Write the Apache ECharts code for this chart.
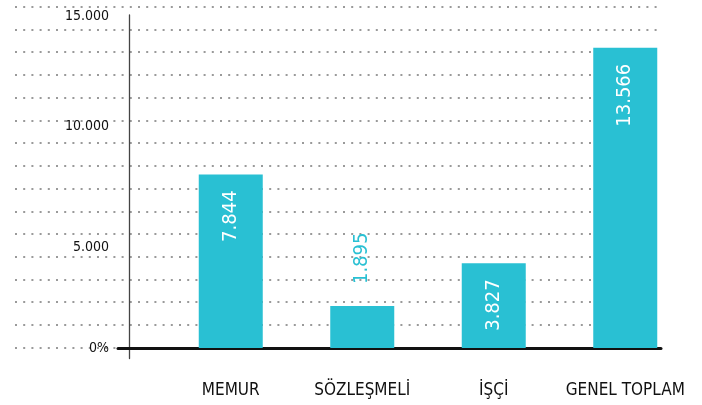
<!DOCTYPE html>
<html>
<head>
<meta charset="utf-8">
<script src="https://cdn.jsdelivr.net/npm/echarts@6/dist/echarts.min.js"></script>
<style>
html,body{margin:0;padding:0;background:#fff;}
#chart{width:702px;height:405px;}
</style>
</head>
<body>
<div id="chart"></div>
<script>
const categories = ['MEMUR', 'SÖZLEŞMELİ', 'İŞÇİ', 'GENEL TOPLAM'];
const values = [7844, 1895, 3827, 13566];
const yTickLabels = {0: '0%', 5000: '5.000', 10000: '10.000', 15000: '15.000'};
const outsideLabelCategories = ['SÖZLEŞMELİ'];

const FONT = "'DejaVu Sans Condensed', 'DejaVu Sans', sans-serif";
const BAR = '#29c0d3';

function fmt(v) {
  return String(v).replace(/\B(?=(\d{3})+(?!\d))/g, '.');
}

const seriesData = values.map(function (v, i) {
  const outside = outsideLabelCategories.indexOf(categories[i]) >= 0;
  return {
    value: v,
    label: outside ? {
      position: 'top', distance: 22, rotate: 90, align: 'left', verticalAlign: 'middle',
      color: BAR
    } : {
      position: 'insideTop', distance: 16, rotate: 90, align: 'right', verticalAlign: 'middle',
      color: '#ffffff'
    }
  };
});

const chart = echarts.init(document.getElementById('chart'), null, {renderer: 'canvas'});
chart.setOption({
  animation: false,
  backgroundColor: '#ffffff',
  grid: [
    {left: 15, right: 42, top: 6.7, bottom: 57.3},
    {left: 129, right: 42, top: 15, bottom: 46.5},
    {left: 118, right: 41, top: 15, bottom: 56.5},
    {left: 165, right: 11, top: 16, bottom: 57}
  ],
  xAxis: [
    {gridIndex: 0, type: 'value', show: false},
    {gridIndex: 1, type: 'value', show: false},
    {gridIndex: 2, type: 'value', min: 0, max: 1, axisLine: {show: true, lineStyle: {color: '#111', width: 3}},
      axisTick: {show: false}, axisLabel: {show: false}, splitLine: {show: false}},
    {gridIndex: 3, type: 'category', data: categories,
      axisLine: {show: false}, axisTick: {show: false},
      axisLabel: {interval: 0, margin: 34, color: '#111', fontFamily: FONT, fontSize: 17}}
  ],
  yAxis: [
    {gridIndex: 0, type: 'value', min: 0, max: 15, interval: 1,
      axisLine: {show: false}, axisTick: {show: false}, axisLabel: {show: false},
      splitLine: {show: true, lineStyle: {color: '#9a9a9a', width: 2, type: [2, 6.2], cap: 'butt'}}},
    {gridIndex: 1, type: 'value', min: 0, max: 1,
      axisLine: {show: true, lineStyle: {color: '#444', width: 1.3}},
      axisTick: {show: false}, axisLabel: {show: false}, splitLine: {show: false}},
    {gridIndex: 2, type: 'value', show: false},
    {gridIndex: 3, type: 'value', min: 0, max: 15000, interval: 5000, offset: 36,
      axisLine: {show: false}, axisTick: {show: false}, splitLine: {show: false},
      axisLabel: {margin: 20, color: '#111', fontFamily: FONT, fontSize: 14,
        formatter: function (v) {
          const t = yTickLabels[v];
          if (v === 5000) return '{d|' + t + '}';
          return t;
        },
        rich: {d: {padding: [20, 0, 0, 0], fontFamily: FONT, fontSize: 14, color: '#111'}}
      }}
  ],
  series: [{
    type: 'bar',
    xAxisIndex: 3,
    yAxisIndex: 3,
    data: seriesData,
    barWidth: 64,
    itemStyle: {color: BAR},
    label: {show: true, fontFamily: FONT, fontSize: 20, formatter: function (p) { return fmt(p.value); }},
    z: 3
  }]
});
</script>
</body>
</html>
